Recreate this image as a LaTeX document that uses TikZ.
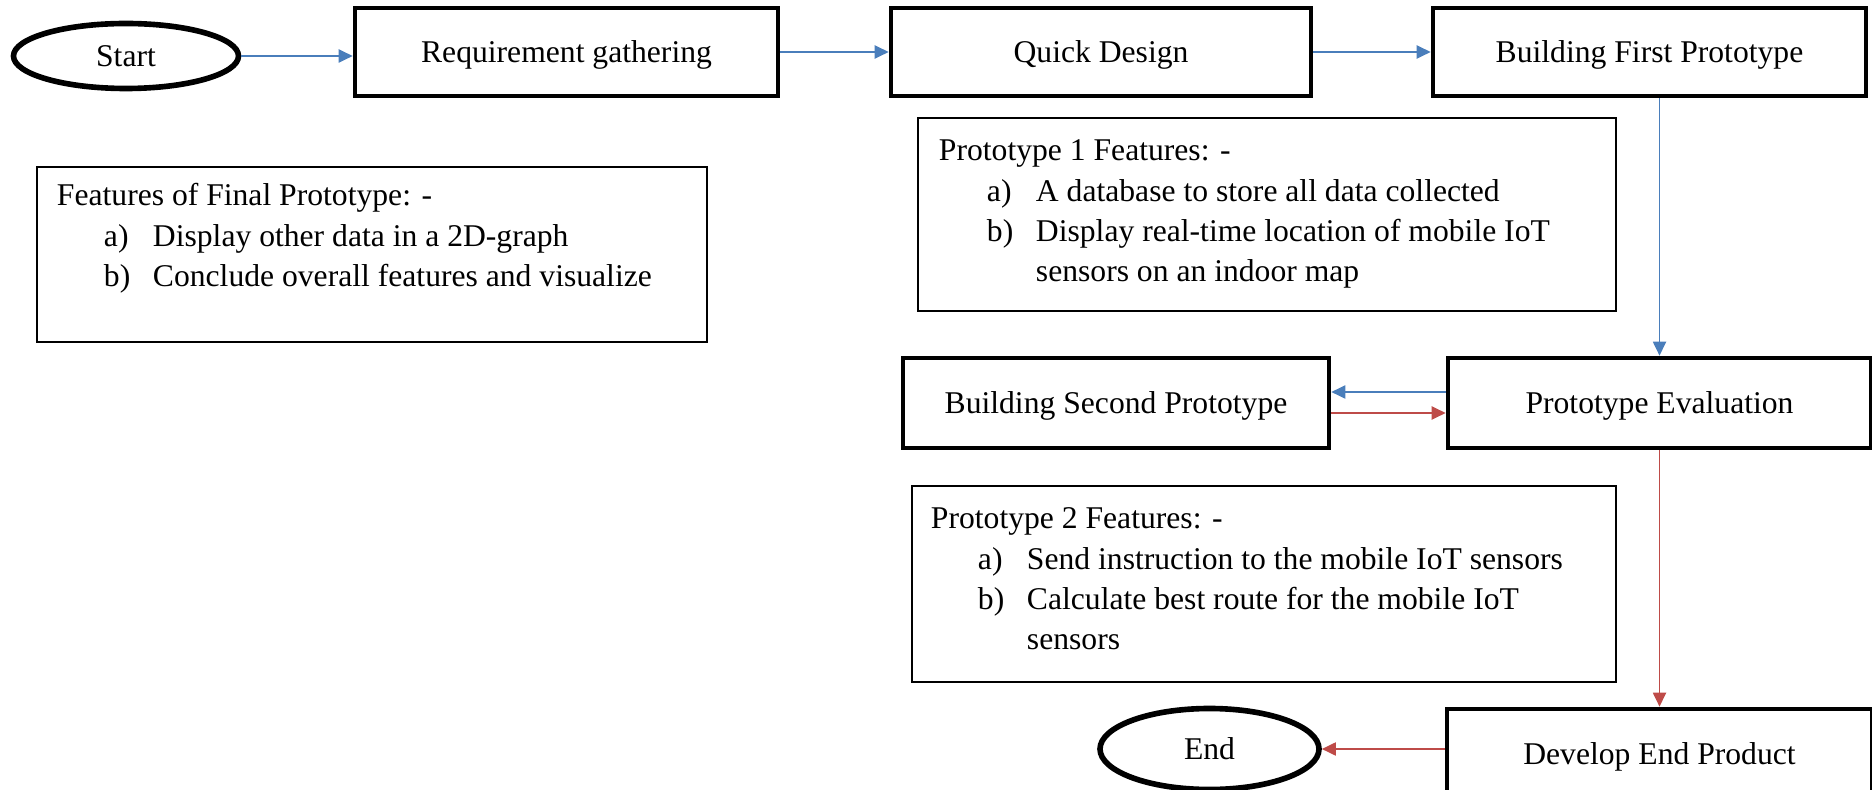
\documentclass[tikz,border=0pt]{standalone}
\usepackage{fontspec}
\setmainfont{Liberation Serif}
\usetikzlibrary{shapes.geometric,arrows.meta}

\definecolor{flowblue}{HTML}{4A7EBB}
\definecolor{flowred}{HTML}{BE4B48}

\tikzset{
  stepbox/.style={draw, line width=2.6pt, rectangle, minimum height=1.76cm, text depth=0pt, font=\fontsize{18}{22.8}\selectfont},
  terminal/.style={draw, line width=3.2pt, ellipse, inner sep=0pt, font=\fontsize{18}{22.8}\selectfont},
  featbox/.style={draw, line width=1.1pt, anchor=north west, inner sep=0pt, font=\fontsize{18}{22.8}\selectfont},
  bluearrow/.style={draw=flowblue, line width=1.1pt, -{Triangle[length=0.28cm,width=0.26cm]}, fill=flowblue},
  redarrow/.style={draw=flowred, line width=1.1pt, -{Triangle[length=0.28cm,width=0.26cm]}, fill=flowred}
}

\begin{document}
\begin{tikzpicture}
    \useasboundingbox (0,0) rectangle (37.44,-15.8);

    % main flow
    \node[terminal, minimum width=4.5cm, minimum height=1.3cm] (start) at (2.52,-1.12) {Start};
    \node[stepbox, minimum width=8.46cm] (req) at (11.33,-1.04) {Requirement gathering};
    \node[stepbox, minimum width=8.4cm] (quick) at (22.02,-1.04) {Quick Design};
    \node[stepbox, minimum width=8.66cm] (first) at (32.99,-1.04) {Building First Prototype};
    \node[stepbox, minimum width=8.46cm, minimum height=1.8cm] (eval) at (33.19,-8.06) {Prototype Evaluation};
    \node[stepbox, minimum width=8.52cm, minimum height=1.8cm] (second) at (22.32,-8.06) {Building Second Prototype};
    \node[stepbox, minimum width=8.5cm, minimum height=1.8cm] (develop) at (33.19,-15.08) {Develop End Product};
    \node[terminal, minimum width=4.38cm, minimum height=1.62cm] (end) at (24.19,-14.98) {End};

    % feature lists
    \node[featbox] (final) at (0.72,-3.32) {\begin{minipage}[c][3.5cm][t]{13.4cm}
        \hspace*{0.4cm}\rule{0pt}{0.78cm}Features of Final Prototype: -\\
        \hspace*{1.34cm}\makebox[0.98cm][l]{a)}Display other data in a 2D-graph\\
        \hspace*{1.34cm}\makebox[0.98cm][l]{b)}Conclude overall features and visualize
        \end{minipage}};
    \node[featbox] (proto1) at (18.34,-2.34) {\begin{minipage}[c][3.86cm][t]{13.96cm}
        \hspace*{0.42cm}\rule{0pt}{0.86cm}Prototype 1 Features: -\\
        \hspace*{1.38cm}\makebox[0.98cm][l]{a)}A database to store all data collected\\
        \hspace*{1.38cm}\makebox[0.98cm][l]{b)}Display real-time location of mobile IoT\\
        \hspace*{2.36cm}sensors on an indoor map
        \end{minipage}};
    \node[featbox] (proto2) at (18.22,-9.70) {\begin{minipage}[c][3.92cm][t]{14.08cm}
        \hspace*{0.38cm}\rule{0pt}{0.86cm}Prototype 2 Features: -\\
        \hspace*{1.32cm}\makebox[0.98cm][l]{a)}Send instruction to the mobile IoT sensors\\
        \hspace*{1.32cm}\makebox[0.98cm][l]{b)}Calculate best route for the mobile IoT\\
        \hspace*{2.3cm}sensors
        \end{minipage}};

    % connectors
    \draw[bluearrow] (start.east) -- (req.west |- start.east);
    \draw[bluearrow] (req.east) -- (quick.west);
    \draw[bluearrow] (quick.east) -- (first.west);
    \draw[bluearrow] (eval.north |- first.south) -- (eval.north);
    \draw[bluearrow] ([yshift=0.22cm]eval.west) -- ([yshift=0.22cm]second.east);
    \draw[redarrow] ([yshift=-0.2cm]second.east) -- ([yshift=-0.2cm]eval.west);
    \draw[redarrow] (eval.south) -- (develop.north);
    \draw[redarrow] (end.east -| develop.west) -- (end.east);
\end{tikzpicture}
\end{document}
